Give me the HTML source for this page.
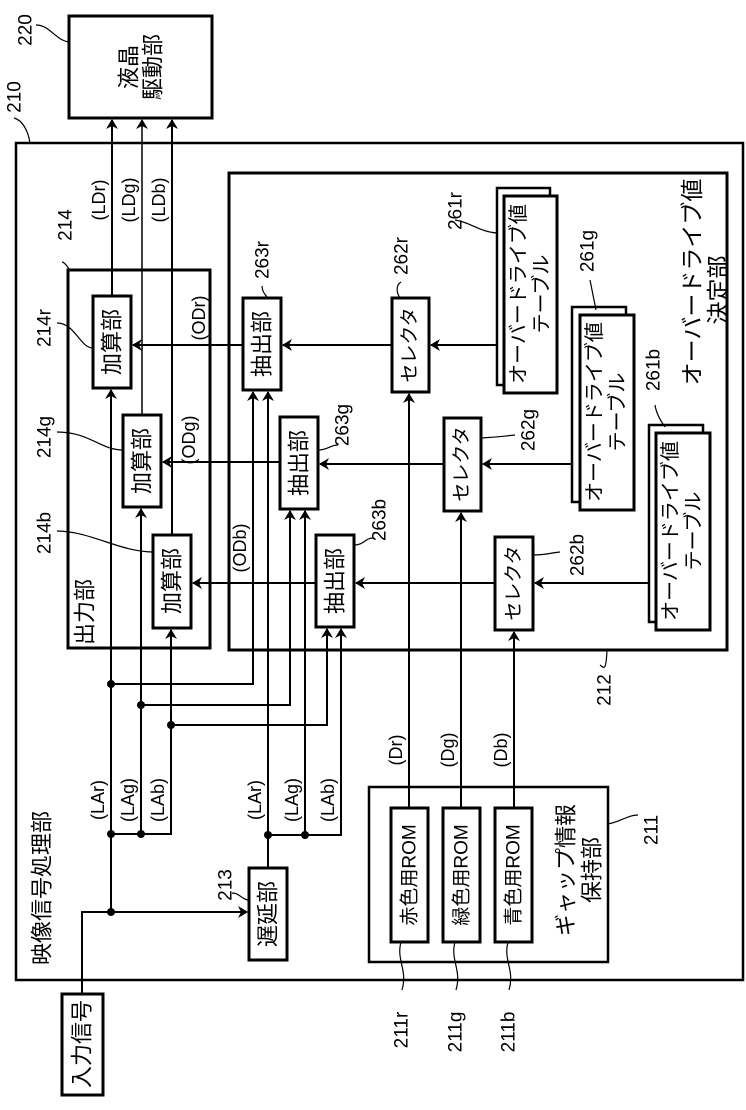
<!DOCTYPE html>
<html><head><meta charset="utf-8"><style>
html,body{margin:0;padding:0;background:#fff}
svg{display:block}
text{font-family:"Liberation Sans","Noto Sans CJK JP",sans-serif;fill:#000}
.b{font-size:22px}
.t{font-size:20px}
.sel{font-size:19px}
.rom{font-size:19px}
.big{font-size:23px}
.s{font-size:18px}
.l{font-size:19px}
</style></head><body>
<svg width="746" height="1110" viewBox="0 0 746 1110" xmlns="http://www.w3.org/2000/svg">
<defs>
<marker id="a" markerWidth="10" markerHeight="12" refX="9" refY="6" orient="auto" markerUnits="userSpaceOnUse">
<path d="M0,0 L10,6 L0,12 L3,6 Z" fill="#000"/></marker>
</defs>
<g fill="none" stroke="#000" stroke-width="3">
<rect x="69" y="16" width="143" height="102"/>
<rect x="16" y="143" width="727" height="837" stroke-width="2.5"/>
<rect x="68" y="270" width="142" height="378"/>
<rect x="229" y="173" width="498" height="477"/>
<rect x="62" y="994" width="41" height="101"/>
<rect x="93" y="296" width="38" height="92"/>
<rect x="123" y="415" width="38" height="92"/>
<rect x="153" y="535" width="38" height="93"/>
<rect x="243" y="298" width="38" height="92"/>
<rect x="280" y="417" width="38" height="92"/>
<rect x="316" y="535" width="38" height="92"/>
<rect x="392" y="298" width="37" height="94"/>
<rect x="444" y="418" width="37" height="93"/>
<rect x="495" y="537" width="38" height="93"/>
<rect x="497" y="188" width="53" height="197" stroke-width="2.5"/>
<rect x="504" y="196" width="53" height="197" fill="#fff"/>
<rect x="572" y="307" width="54" height="195" stroke-width="2.5"/>
<rect x="580" y="315" width="54" height="195" fill="#fff"/>
<rect x="649" y="425" width="54" height="197" stroke-width="2.5"/>
<rect x="656" y="433" width="54" height="197" fill="#fff"/>
<rect x="369" y="787" width="239" height="175" stroke-width="2.5"/>
<rect x="391" y="808" width="37" height="134"/>
<rect x="443" y="808" width="37" height="134"/>
<rect x="495" y="808" width="37" height="134"/>
<rect x="249" y="868" width="38" height="92"/>
</g>
<g fill="none" stroke="#000" stroke-width="2">
<line x1="112" y1="296" x2="112" y2="120" marker-end="url(#a)"/>
<line x1="142" y1="415" x2="142" y2="120" marker-end="url(#a)" stroke-width="1.5"/>
<line x1="172" y1="535" x2="172" y2="120" marker-end="url(#a)"/>
<polyline points="82,994 82,912 247,912" marker-end="url(#a)"/>
<line x1="111" y1="912" x2="111" y2="390" marker-end="url(#a)"/>
<polyline points="111,834 141,834"/>
<line x1="141" y1="834" x2="141" y2="509" marker-end="url(#a)"/>
<polyline points="141,834 171,834 171,630" marker-end="url(#a)"/>
<polyline points="111,684 253,684 253,392" marker-end="url(#a)"/>
<polyline points="141,705 290,705 290,511" marker-end="url(#a)"/>
<polyline points="171,725 327,725 327,629" marker-end="url(#a)"/>
<line x1="268" y1="868" x2="268" y2="392" marker-end="url(#a)"/>
<polyline points="268,835 305,835 305,511" marker-end="url(#a)"/>
<polyline points="305,835 341,835 341,629" marker-end="url(#a)"/>
<line x1="409" y1="808" x2="409" y2="394" marker-end="url(#a)"/>
<line x1="461" y1="808" x2="461" y2="513" marker-end="url(#a)"/>
<line x1="514" y1="808" x2="514" y2="632" marker-end="url(#a)"/>
<line x1="497" y1="345" x2="431" y2="345" marker-end="url(#a)"/>
<line x1="572" y1="464" x2="483" y2="464" marker-end="url(#a)"/>
<line x1="649" y1="583" x2="535" y2="583" marker-end="url(#a)"/>
<line x1="392" y1="345" x2="283" y2="345" marker-end="url(#a)"/>
<line x1="444" y1="464" x2="320" y2="464" marker-end="url(#a)"/>
<line x1="495" y1="583" x2="356" y2="583" marker-end="url(#a)"/>
<line x1="243" y1="345" x2="133" y2="345" marker-end="url(#a)"/>
<line x1="280" y1="462" x2="163" y2="462" marker-end="url(#a)"/>
<line x1="316" y1="583" x2="193" y2="583" marker-end="url(#a)"/>
</g>
<g fill="#000">
<circle cx="111" cy="912" r="4"/><circle cx="111" cy="834" r="4"/><circle cx="141" cy="834" r="4"/>
<circle cx="111" cy="684" r="4"/><circle cx="141" cy="705" r="4"/><circle cx="171" cy="725" r="4"/>
<circle cx="268" cy="835" r="4"/><circle cx="305" cy="835" r="4"/>
</g>
<g fill="none" stroke="#000" stroke-width="1.2">
<path d="M36,25 C50,25 55,40 69,42"/>
<path d="M14,118 C22,120 28,130 30,143"/>
<path d="M62,262 C65,262 68,268 70,270"/>
<path d="M57,323 C75,323 80,348 93,348"/>
<path d="M57,432 C90,432 100,450 123,450"/>
<path d="M57,531 C90,531 120,552 153,552"/>
<path d="M262,286 C262,292 266,296 268,298"/>
<path d="M338,445 C330,445 328,450 318,450"/>
<path d="M373,538 C365,538 364,545 354,545"/>
<path d="M401,282 C396,285 396,292 400,298"/>
<path d="M455,220 C470,222 480,232 497,233"/>
<path d="M590,280 C592,290 594,300 596,310"/>
<path d="M515,435 C505,436 500,437 481,438"/>
<path d="M655,405 C656,412 660,420 665,427"/>
<path d="M560,552 C550,553 545,555 533,555"/>
<path d="M600,665 C604,668 606,672 607,650"/>
<path d="M638,815 C628,815 620,822 608,824"/>
<path d="M401,942 C396,960 408,970 402,990"/>
<path d="M455,942 C450,960 462,970 456,990"/>
<path d="M508,942 C503,960 515,970 509,990"/>
<path d="M232,893 C240,893 242,900 249,900"/>
</g>
<g>
<text class="b" transform="translate(129,67) rotate(-90)" text-anchor="middle" dominant-baseline="central">液晶</text>
<text class="b" transform="translate(153,67) rotate(-90)" text-anchor="middle" dominant-baseline="central">駆動部</text>
<text class="b" transform="translate(82,1044) rotate(-90)" text-anchor="middle" dominant-baseline="central">入力信号</text>
<text class="b" transform="translate(42,965) rotate(-90)" text-anchor="start" dominant-baseline="central">映像信号処理部</text>
<text class="b" transform="translate(85,645) rotate(-90)" text-anchor="start" dominant-baseline="central">出力部</text>
<text class="b" transform="translate(112,342) rotate(-90)" text-anchor="middle" dominant-baseline="central">加算部</text>
<text class="b" transform="translate(142,461) rotate(-90)" text-anchor="middle" dominant-baseline="central">加算部</text>
<text class="b" transform="translate(172,581) rotate(-90)" text-anchor="middle" dominant-baseline="central">加算部</text>
<text class="b" transform="translate(262,344) rotate(-90)" text-anchor="middle" dominant-baseline="central">抽出部</text>
<text class="b" transform="translate(299,463) rotate(-90)" text-anchor="middle" dominant-baseline="central">抽出部</text>
<text class="b" transform="translate(335,581) rotate(-90)" text-anchor="middle" dominant-baseline="central">抽出部</text>
<text class="sel" transform="translate(410,345) rotate(-90)" text-anchor="middle" dominant-baseline="central">セレクタ</text>
<text class="sel" transform="translate(462,464) rotate(-90)" text-anchor="middle" dominant-baseline="central">セレクタ</text>
<text class="sel" transform="translate(514,583) rotate(-90)" text-anchor="middle" dominant-baseline="central">セレクタ</text>
<text class="t" transform="translate(519,294) rotate(-90)" text-anchor="middle" dominant-baseline="central">オーバードライブ値</text>
<text class="t" transform="translate(542,294) rotate(-90)" text-anchor="middle" dominant-baseline="central">テーブル</text>
<text class="t" transform="translate(595,412) rotate(-90)" text-anchor="middle" dominant-baseline="central">オーバードライブ値</text>
<text class="t" transform="translate(618,412) rotate(-90)" text-anchor="middle" dominant-baseline="central">テーブル</text>
<text class="t" transform="translate(671,531) rotate(-90)" text-anchor="middle" dominant-baseline="central">オーバードライブ値</text>
<text class="t" transform="translate(694,531) rotate(-90)" text-anchor="middle" dominant-baseline="central">テーブル</text>
<text class="big" transform="translate(692,282) rotate(-90)" text-anchor="middle" dominant-baseline="central">オーバードライブ値</text>
<text class="big" transform="translate(718,290) rotate(-90)" text-anchor="middle" dominant-baseline="central">決定部</text>
<text class="rom" transform="translate(410,875) rotate(-90)" text-anchor="middle" dominant-baseline="central">赤色用ROM</text>
<text class="rom" transform="translate(462,875) rotate(-90)" text-anchor="middle" dominant-baseline="central">緑色用ROM</text>
<text class="rom" transform="translate(514,875) rotate(-90)" text-anchor="middle" dominant-baseline="central">青色用ROM</text>
<text class="b" transform="translate(566,870) rotate(-90)" text-anchor="middle" dominant-baseline="central">ギャップ情報</text>
<text class="b" transform="translate(592,870) rotate(-90)" text-anchor="middle" dominant-baseline="central">保持部</text>
<text class="b" transform="translate(268,914) rotate(-90)" text-anchor="middle" dominant-baseline="central">遅延部</text>
</g>
<g>
<text class="s" transform="translate(99,200) rotate(-90)" text-anchor="middle" dominant-baseline="central">(LDr)</text>
<text class="s" transform="translate(129,200) rotate(-90)" text-anchor="middle" dominant-baseline="central">(LDg)</text>
<text class="s" transform="translate(159,200) rotate(-90)" text-anchor="middle" dominant-baseline="central">(LDb)</text>
<text class="s" transform="translate(199,318) rotate(-90)" text-anchor="middle" dominant-baseline="central">(ODr)</text>
<text class="s" transform="translate(189,440) rotate(-90)" text-anchor="middle" dominant-baseline="central">(ODg)</text>
<text class="s" transform="translate(240,548) rotate(-90)" text-anchor="middle" dominant-baseline="central">(ODb)</text>
<text class="s" transform="translate(98,800) rotate(-90)" text-anchor="middle" dominant-baseline="central">(LAr)</text>
<text class="s" transform="translate(128,800) rotate(-90)" text-anchor="middle" dominant-baseline="central">(LAg)</text>
<text class="s" transform="translate(158,800) rotate(-90)" text-anchor="middle" dominant-baseline="central">(LAb)</text>
<text class="s" transform="translate(255,800) rotate(-90)" text-anchor="middle" dominant-baseline="central">(LAr)</text>
<text class="s" transform="translate(292,800) rotate(-90)" text-anchor="middle" dominant-baseline="central">(LAg)</text>
<text class="s" transform="translate(328,800) rotate(-90)" text-anchor="middle" dominant-baseline="central">(LAb)</text>
<text class="s" transform="translate(396,750) rotate(-90)" text-anchor="middle" dominant-baseline="central">(Dr)</text>
<text class="s" transform="translate(448,750) rotate(-90)" text-anchor="middle" dominant-baseline="central">(Dg)</text>
<text class="s" transform="translate(501,750) rotate(-90)" text-anchor="middle" dominant-baseline="central">(Db)</text>
<text class="l" transform="translate(26,30) rotate(-90)" text-anchor="middle" dominant-baseline="central">220</text>
<text class="l" transform="translate(15,97) rotate(-90)" text-anchor="middle" dominant-baseline="central">210</text>
<text class="l" transform="translate(66,225) rotate(-90)" text-anchor="middle" dominant-baseline="central">214</text>
<text class="l" transform="translate(45,328) rotate(-90)" text-anchor="middle" dominant-baseline="central">214r</text>
<text class="l" transform="translate(45,437) rotate(-90)" text-anchor="middle" dominant-baseline="central">214g</text>
<text class="l" transform="translate(45,533) rotate(-90)" text-anchor="middle" dominant-baseline="central">214b</text>
<text class="l" transform="translate(263,260) rotate(-90)" text-anchor="middle" dominant-baseline="central">263r</text>
<text class="l" transform="translate(343,425) rotate(-90)" text-anchor="middle" dominant-baseline="central">263g</text>
<text class="l" transform="translate(380,520) rotate(-90)" text-anchor="middle" dominant-baseline="central">263b</text>
<text class="l" transform="translate(402,256) rotate(-90)" text-anchor="middle" dominant-baseline="central">262r</text>
<text class="l" transform="translate(456,211) rotate(-90)" text-anchor="middle" dominant-baseline="central">261r</text>
<text class="l" transform="translate(588,251) rotate(-90)" text-anchor="middle" dominant-baseline="central">261g</text>
<text class="l" transform="translate(529,430) rotate(-90)" text-anchor="middle" dominant-baseline="central">262g</text>
<text class="l" transform="translate(654,370) rotate(-90)" text-anchor="middle" dominant-baseline="central">261b</text>
<text class="l" transform="translate(578,555) rotate(-90)" text-anchor="middle" dominant-baseline="central">262b</text>
<text class="l" transform="translate(605,690) rotate(-90)" text-anchor="middle" dominant-baseline="central">212</text>
<text class="l" transform="translate(652,830) rotate(-90)" text-anchor="middle" dominant-baseline="central">211</text>
<text class="l" transform="translate(226,885) rotate(-90)" text-anchor="middle" dominant-baseline="central">213</text>
<text class="l" transform="translate(402,1030) rotate(-90)" text-anchor="middle" dominant-baseline="central">211r</text>
<text class="l" transform="translate(456,1032) rotate(-90)" text-anchor="middle" dominant-baseline="central">211g</text>
<text class="l" transform="translate(509,1032) rotate(-90)" text-anchor="middle" dominant-baseline="central">211b</text>
</g>
</svg>
</body></html>
